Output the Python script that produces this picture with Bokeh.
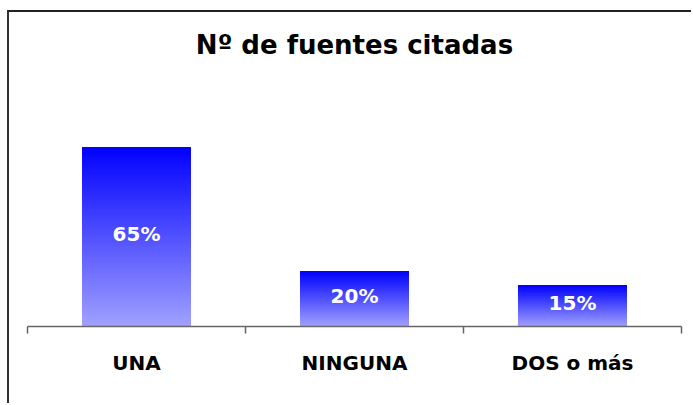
from bokeh.plotting import figure
from bokeh.models import Range1d, FixedTicker, ColumnDataSource, LabelSet
from bokeh.embed import file_html
from bokeh.resources import INLINE
from bokeh.core.properties import value

# ---- data ----
categories = ["UNA", "NINGUNA", "DOS o más"]
percentages = [65, 20, 15]
value_labels = ["65%", "20%", "15%"]
title_text = "Nº de fuentes citadas"

# ---- style ----
TOP_RGB = (0, 0, 255)
BOTTOM_RGB = (160, 160, 255)
N_STRIPS = 90
FONT = "DejaVu Sans"
Y_END = 95.1

n = len(categories)
centers = [i + 0.5 for i in range(n)]
boundaries = [float(i) for i in range(n + 1)]

p = figure(width=684, height=393, x_range=Range1d(0, n), y_range=Range1d(0, Y_END),
           output_backend="svg", toolbar_location=None,
           min_border_left=18, min_border_right=12, min_border_top=52, min_border_bottom=79)

# gradient bars: overlapping strips, each from its start up to the bar top
xs, bottoms, tops, colors = [], [], [], []
for c, v in zip(centers, percentages):
    for k in range(N_STRIPS):
        t = k / N_STRIPS
        r = round(BOTTOM_RGB[0] + (TOP_RGB[0] - BOTTOM_RGB[0]) * t)
        g = round(BOTTOM_RGB[1] + (TOP_RGB[1] - BOTTOM_RGB[1]) * t)
        b = round(BOTTOM_RGB[2] + (TOP_RGB[2] - BOTTOM_RGB[2]) * t)
        xs.append(c)
        bottoms.append(v * t)
        tops.append(v)
        colors.append("#%02x%02x%02x" % (r, g, b))
p.vbar(x=xs, bottom=bottoms, top=tops, width=0.5, fill_color=colors, line_color=None)

src = ColumnDataSource(dict(x=centers, y=[v / 2 for v in percentages], text=value_labels))
p.add_layout(LabelSet(x="x", y="y", text="text", source=src, text_align="center",
                      text_baseline="middle", text_color="white", text_font=value(FONT),
                      text_font_style="bold", text_font_size="20px", y_offset=3))

p.title.text = title_text
p.title.align = "center"
p.title.text_font = FONT
p.title.text_font_style = "bold"
p.title.text_font_size = "26px"
p.title.text_color = "black"

ax = p.xaxis[0]
ax.ticker = FixedTicker(ticks=centers, minor_ticks=boundaries)
ax.major_label_overrides = {c: name for c, name in zip(centers, categories)}
ax.major_tick_line_color = None
ax.major_tick_out = 0
ax.major_tick_in = 0
ax.minor_tick_in = 0
ax.minor_tick_out = 7
ax.minor_tick_line_color = "#666666"
ax.minor_tick_line_width = 1.5
ax.axis_line_color = "#666666"
ax.axis_line_width = 1.5
ax.major_label_text_font = FONT
ax.major_label_text_font_style = "bold"
ax.major_label_text_font_size = "20px"
ax.major_label_text_color = "black"
ax.major_label_standoff = 17

p.yaxis.visible = False
p.xgrid.visible = False
p.ygrid.visible = False
p.outline_line_color = None
p.styles = {"border-left": "2px solid #333333", "border-top": "2px solid #222222",
            "margin-left": "7px", "margin-top": "10px"}

open("out.html", "w").write(file_html(p, INLINE))
